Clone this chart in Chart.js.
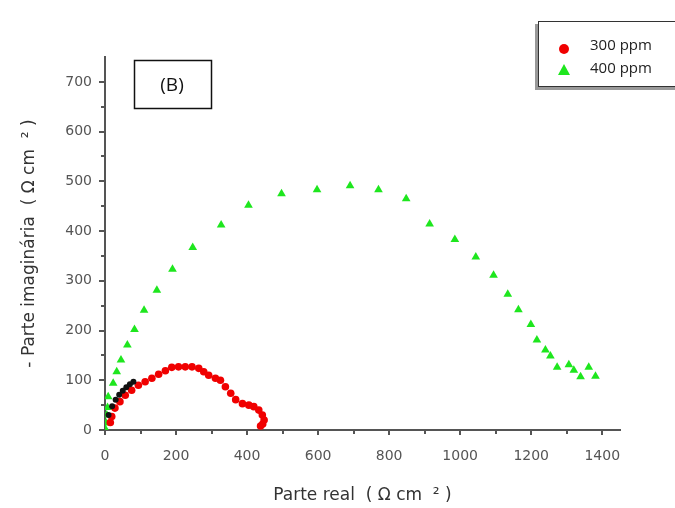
<!DOCTYPE html>
<html lang="pt">
<head>
    <meta charset="UTF-8">
    <title>Nyquist (B)</title>
    <script src="https://cdn.jsdelivr.net/npm/chart.js@4.4.1/dist/chart.umd.min.js"></script>
    <style>
        * { margin: 0; padding: 0; box-sizing: border-box; }
        body { background: #fff; width: 675px; height: 508px; overflow: hidden; }
        .wrap { position: relative; width: 675px; height: 508px; }
    </style>
</head>
<body>
    <div class="wrap"><canvas id="nyquist" width="675" height="508"></canvas></div>

    <script>
        // tick labels
        const xTickLabels = [0, 200, 400, 600, 800, 1000, 1200, 1400];
        const yTickLabels = [0, 100, 200, 300, 400, 500, 600, 700];

        // 300 ppm (red circles)
        const red300X = [15, 19, 28, 42, 57, 75, 94, 113, 132, 151, 170, 188, 207, 226, 245, 264, 278, 292, 311, 325, 339, 354, 368, 387, 405, 419, 433, 443, 448, 444, 438];
        const red300Y = [15, 27, 44, 57, 70, 80, 90, 97, 104, 112, 119, 126, 127, 127, 127, 124, 117, 110, 104, 100, 87, 74, 61, 53, 50, 47, 40, 30, 20, 12, 8];

        // series hidden under the others near the origin (black)
        const blackX = [10, 20, 30, 40, 50, 60, 70, 80];
        const blackY = [30, 48, 61, 71, 79, 86, 92, 97];

        // 400 ppm (green triangles)
        const green400X = [1, 3, 5, 7, 9, 23, 33, 45, 63, 83, 110, 146, 190, 247, 327, 404, 497, 597, 690, 770, 848, 914, 985, 1044, 1094, 1134, 1164, 1199, 1216, 1240, 1254, 1273, 1306, 1320, 1339, 1362, 1381];
        const green400Y = [2, 14, 30, 45, 67, 94, 117, 141, 171, 202, 241, 281, 323, 367, 412, 452, 475, 483, 491, 483, 465, 414, 383, 348, 311, 273, 242, 212, 181, 161, 149, 126, 131, 120, 107, 126, 108];

        const toPoints = (xs, ys) => xs.map((x, i) => ({ x: x, y: ys[i] }));

        const tickFont = { family: 'DejaVu Sans', size: 14 };
        const titleFont = { family: 'DejaVu Sans', size: 17 };

        // axis tick marks (major + minor), box with (B), legend frame
        const decor = {
            id: 'decor',
            afterDraw(chart) {
                const ctx = chart.ctx;
                const xs = chart.scales.x, ys = chart.scales.y;
                const area = chart.chartArea;
                ctx.save();
                ctx.strokeStyle = '#555';
                ctx.lineWidth = 2;
                for (let v = 0; v <= 1400; v += 100) {
                    const px = Math.round(xs.getPixelForValue(v));
                    ctx.beginPath();
                    ctx.moveTo(px, area.bottom);
                    ctx.lineTo(px, area.bottom + (v % 200 === 0 ? 5 : 4));
                    ctx.stroke();
                }
                for (let v = 0; v <= 700; v += 50) {
                    const py = Math.round(ys.getPixelForValue(v));
                    ctx.beginPath();
                    ctx.moveTo(area.left, py);
                    ctx.lineTo(area.left - (v % 100 === 0 ? 6 : 4), py);
                    ctx.stroke();
                }

                // (B) label box
                ctx.lineWidth = 1.5;
                ctx.strokeStyle = '#111';
                ctx.strokeRect(134.5, 60.5, 77, 48);
                ctx.fillStyle = '#111';
                ctx.font = '19px "Open Sans"';
                ctx.textAlign = 'center';
                ctx.textBaseline = 'middle';
                ctx.fillText('(B)', 172, 86);

                // legend
                ctx.fillStyle = '#999';
                ctx.fillRect(535, 24, 145, 66);
                ctx.fillStyle = '#fff';
                ctx.fillRect(538, 21, 145, 66);
                ctx.strokeStyle = '#333';
                ctx.lineWidth = 1;
                ctx.strokeRect(538.5, 21.5, 145, 65);
                const sets = chart.data.datasets.filter(d => d.label);
                sets.forEach((d, i) => {
                    const cy = 46 + i * 23;
                    ctx.fillStyle = d.backgroundColor;
                    if (d.pointStyle === 'triangle') {
                        ctx.beginPath();
                        ctx.moveTo(564, cy - 5);
                        ctx.lineTo(570, cy + 6);
                        ctx.lineTo(558, cy + 6);
                        ctx.closePath();
                        ctx.fill();
                    } else {
                        ctx.beginPath();
                        ctx.arc(564, cy + 3, 5, 0, Math.PI * 2);
                        ctx.fill();
                    }
                    ctx.fillStyle = '#222';
                    ctx.font = '15px "Open Sans"';
                    ctx.textAlign = 'left';
                    ctx.fillText(d.label, 590, cy);
                });
                ctx.restore();
            }
        };

        new Chart(document.getElementById('nyquist'), {
            type: 'scatter',
            data: {
                datasets: [
                    {
                        label: '',
                        data: toPoints(blackX, blackY),
                        pointStyle: 'circle',
                        pointRadius: 3,
                        backgroundColor: '#111',
                        borderWidth: 0
                    },
                    {
                        label: '300 ppm',
                        data: toPoints(red300X, red300Y),
                        pointStyle: 'circle',
                        pointRadius: 3.8,
                        backgroundColor: '#f00000',
                        borderWidth: 0
                    },
                    {
                        label: '400 ppm',
                        data: toPoints(green400X, green400Y),
                        pointStyle: 'triangle',
                        pointRadius: 5,
                        backgroundColor: '#1ee61e',
                        borderWidth: 0
                    }
                ]
            },
            options: {
                responsive: false,
                animation: false,
                layout: { padding: { top: 57, right: 55, left: 0, bottom: 0 } },
                plugins: {
                    legend: { display: false },
                    tooltip: { enabled: false }
                },
                scales: {
                    x: {
                        type: 'linear',
                        min: 0,
                        max: 1450,
                        afterFit: s => { s.height = 78; },
                        grid: { display: false, drawTicks: false },
                        border: { display: true, color: '#555', width: 2 },
                        ticks: {
                            stepSize: 100,
                            includeBounds: false,
                            autoSkip: false,
                            maxRotation: 0,
                            padding: 18,
                            color: '#555',
                            font: tickFont,
                            callback: v => xTickLabels.includes(v) ? String(v) : ''
                        },
                        title: {
                            display: true,
                            text: 'Parte real  ( Ω cm  ² )',
                            color: '#333',
                            font: titleFont,
                            padding: { top: 0, bottom: 2 }
                        }
                    },
                    y: {
                        type: 'linear',
                        min: 0,
                        max: 750,
                        afterFit: s => { s.width = 105; },
                        grid: { display: false, drawTicks: false },
                        border: { display: true, color: '#555', width: 2 },
                        ticks: {
                            stepSize: 100,
                            includeBounds: false,
                            autoSkip: false,
                            padding: 13,
                            color: '#555',
                            font: tickFont,
                            callback: v => yTickLabels.includes(v) ? String(v) : ''
                        },
                        title: {
                            display: true,
                            text: '- Parte imaginária  ( Ω cm  ² )',
                            color: '#333',
                            font: titleFont,
                            padding: { top: 19, bottom: 0 }
                        }
                    }
                }
            },
            plugins: [decor]
        });
    </script>
</body>
</html>
